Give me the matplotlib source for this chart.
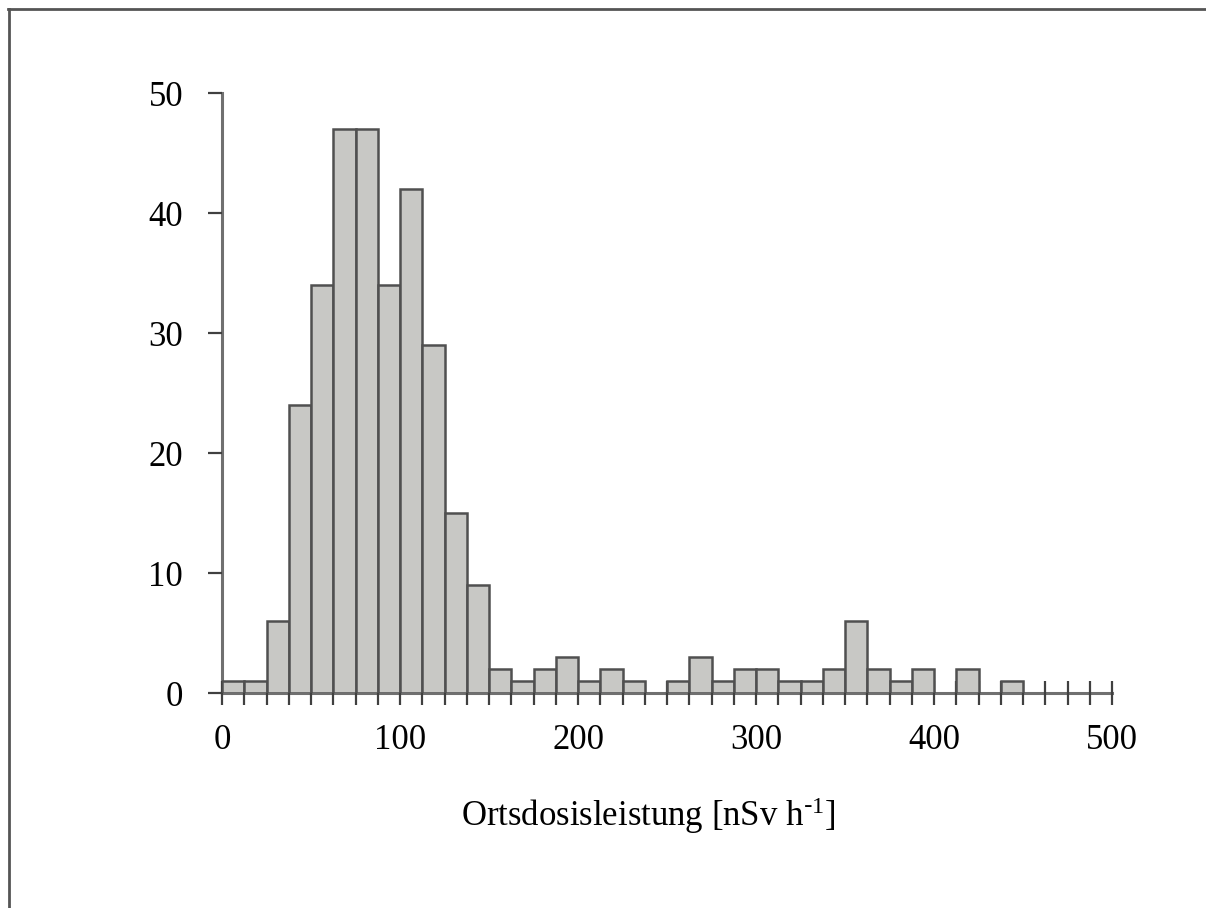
#!/usr/bin/env python3

import numpy as np
import matplotlib.pyplot as plt
from matplotlib.lines import Line2D

plt.rcParams['font.family'] = ['Liberation Serif', 'DejaVu Serif']
plt.rcParams['mathtext.default'] = 'regular'

# histogram: 40 bins of 12.5 nSv/h from 0 to 500
bin_width = 12.5
bin_edges = np.arange(0, 500, bin_width)
counts = [1, 1, 6, 24, 34, 47, 47, 34, 42, 29,
          15, 9, 2, 1, 2, 3, 1, 2, 1, 0,
          1, 3, 1, 2, 2, 1, 1, 2, 6, 2,
          1, 2, 0, 2, 0, 1, 0, 0, 0, 0]
y_ticks = [0, 10, 20, 30, 40, 50]
x_ticks = [0, 100, 200, 300, 400, 500]

counts = np.array(counts)
left = bin_edges[counts > 0]
height = counts[counts > 0]

fig = plt.figure(figsize=(12.06, 9.08), dpi=100)
ax = fig.add_axes([222/1206, 1 - 693/908, 890/1206, 600/908])

ax.bar(left, height, width=bin_width, align='edge',
       color='#c8c8c5', edgecolor='#505050', linewidth=1.8, zorder=2)

ax.set_xlim(0, 500)
ax.set_ylim(0, 50)

for s in ['top', 'right']:
    ax.spines[s].set_visible(False)
for s in ['left', 'bottom']:
    ax.spines[s].set_color('#707070')
    ax.spines[s].set_linewidth(2.2)
    ax.spines[s].set_zorder(1)

ax.set_yticks(y_ticks)
ax.set_xticks(x_ticks)
ax.set_xticks(np.arange(0, 500 + bin_width, bin_width), minor=True)
ax.tick_params(axis='y', direction='out', length=10, width=1.6,
               color='#404040', labelsize=25, pad=18)
ax.tick_params(axis='x', which='both', direction='inout', length=17,
               width=1.6, color='#404040')
ax.tick_params(axis='x', which='major', labelsize=25, pad=14)

ax.set_xlabel(r'Ortsdosisleistung [nSv h$^{\text{-}1}$]', fontsize=25)
ax.xaxis.set_label_coords((648 - 222) / 890, -(795 - 693) / 600)

# grey frame on top and left edges of the picture
fig.add_artist(Line2D([8/1206, 1], [1 - 9/908, 1 - 9/908],
                      transform=fig.transFigure, color='#555555', lw=2))
fig.add_artist(Line2D([9/1206, 9/1206], [0, 1 - 9/908],
                      transform=fig.transFigure, color='#555555', lw=2))

fig.savefig('out.png', dpi=100)
